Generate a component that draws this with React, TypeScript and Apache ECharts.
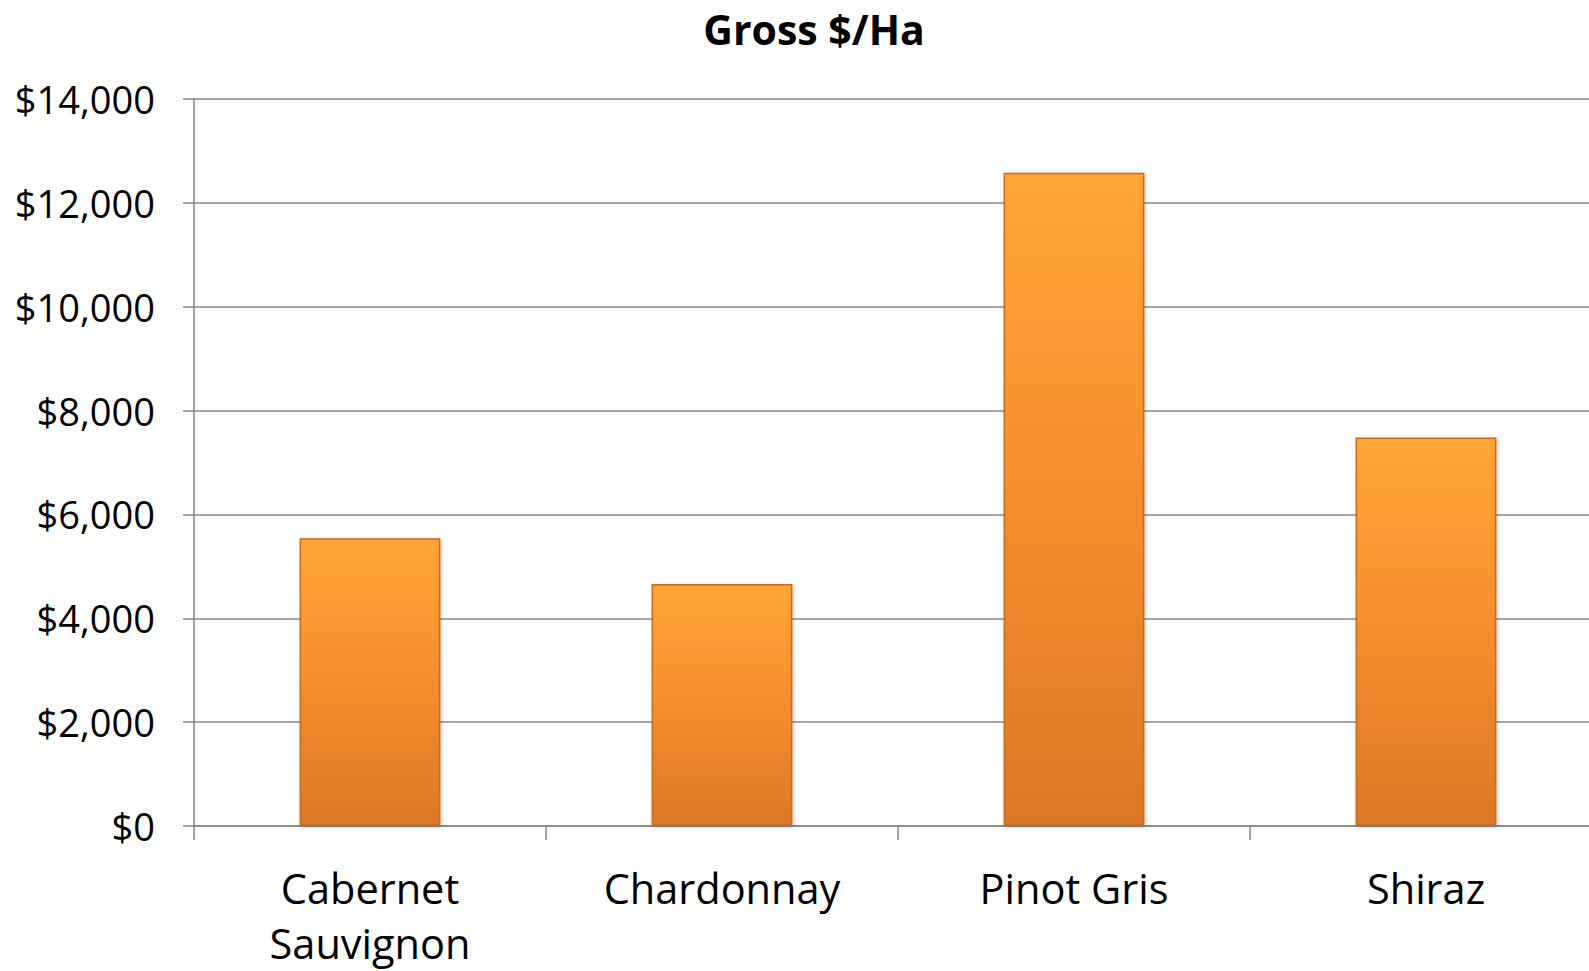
import React, { useEffect, useRef } from "react";
import * as echarts from "echarts";

const categories = ["Cabernet\nSauvignon", "Chardonnay", "Pinot Gris", "Shiraz"];
const grossValues = [5540, 4660, 12580, 7480];
const yTicks = { min: 0, max: 14000, interval: 2000 };

export default function App() {
  const ref = useRef<HTMLDivElement>(null);
  useEffect(() => {
    if (!ref.current) return;
    const chart = echarts.init(ref.current, null, { renderer: "svg" });
    const font = "Open Sans, Noto Sans, sans-serif";
    chart.setOption({
      animation: false,
      backgroundColor: "#ffffff",
      title: {
        text: "Gross $/Ha",
        left: 809,
        textAlign: "center",
        top: 3,
        textStyle: { fontFamily: font, fontWeight: "bold", fontSize: 41, color: "#000" },
      },
      grid: {
        left: 194,
        right: -13,
        top: 99,
        bottom: 145,
        containLabel: false,
        outerBoundsMode: "none",
      },
      xAxis: {
        type: "category",
        data: categories,
        axisLine: { lineStyle: { color: "#868686", width: 1.5 } },
        axisTick: { show: true, length: 14, lineStyle: { color: "#868686", width: 1.5 } },
        axisLabel: {
          fontFamily: font,
          fontSize: 41.5,
          color: "#000",
          margin: 34,
          lineHeight: 55,
        },
      },
      yAxis: {
        type: "value",
        min: yTicks.min,
        max: yTicks.max,
        interval: yTicks.interval,
        axisLine: { show: true, lineStyle: { color: "#868686", width: 1.5 } },
        axisTick: { show: true, length: 11, lineStyle: { color: "#868686", width: 1.5 } },
        splitLine: { show: true, lineStyle: { color: "#8a8a8a", width: 1.5 } },
        axisLabel: {
          fontFamily: font,
          fontSize: 38,
          color: "#000",
          margin: 39,
          formatter: (v: number) => "$" + v.toLocaleString("en-US"),
        },
      },
      series: [
        {
          type: "bar",
          data: grossValues,
          barWidth: "40%",
          itemStyle: {
            color: new echarts.graphic.LinearGradient(0, 0, 0, 1, [
              { offset: 0, color: "#ffa535" },
              { offset: 0.5, color: "#f58e2c" },
              { offset: 1, color: "#db7826" },
            ]),
            borderColor: "#c66a1e",
            borderWidth: 1.5,
            shadowColor: "rgba(0,0,0,0.25)",
            shadowBlur: 4,
            shadowOffsetX: 1,
            shadowOffsetY: 1,
          },
        },
      ],
    });
    return () => chart.dispose();
  }, []);
  return (
    <div
      ref={ref}
      style={{ position: "fixed", left: 0, top: 0, width: 1589, height: 971, overflow: "hidden" }}
    />
  );
}
